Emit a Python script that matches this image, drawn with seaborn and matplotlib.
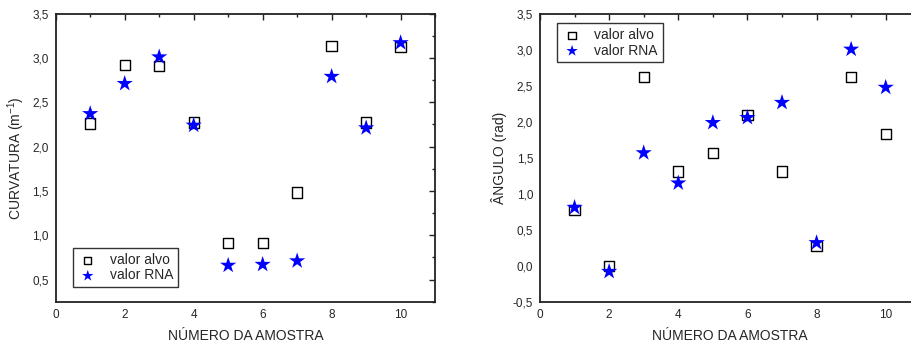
import matplotlib
matplotlib.use("Agg")
import matplotlib.pyplot as plt
import pandas as pd
import seaborn as sns
from matplotlib.ticker import FuncFormatter, MultipleLocator

amostra = [1, 2, 3, 4, 5, 6, 7, 8, 9, 10]

curv_alvo = [2.26, 2.92, 2.91, 2.27, 0.91, 0.91, 1.48, 3.13, 2.27, 3.12]
curv_rna = [2.37, 2.71, 3.01, 2.24, 0.66, 0.67, 0.71, 2.79, 2.21, 3.17]

ang_alvo = [0.78, 0.00, 2.62, 1.31, 1.57, 2.10, 1.31, 0.27, 2.62, 1.83]
ang_rna = [0.81, -0.08, 1.57, 1.15, 1.99, 2.06, 2.27, 0.32, 3.01, 2.48]

sns.set_style("white")
plt.rcParams["font.family"] = ["Liberation Sans", "DejaVu Sans"]
plt.rcParams["mathtext.default"] = "regular"


def comma(v, pos):
    return f"{v:.1f}".replace(".", ",")


def draw(ax, alvo, rna, ylim, ylabel, legend_loc):
    df = pd.DataFrame({"x": amostra, "alvo": alvo, "rna": rna})
    sns.scatterplot(data=df, x="x", y="alvo", ax=ax, marker="s", s=55,
                    facecolor="none", edgecolor="black", linewidth=1.0,
                    label="valor alvo", zorder=3)
    sns.scatterplot(data=df, x="x", y="rna", ax=ax, marker="*", s=150,
                    color="#0000ff", edgecolor="none", label="valor RNA", zorder=4)
    ax.set_xlim(0, 11)
    ax.set_ylim(*ylim)
    ax.xaxis.set_major_locator(MultipleLocator(2))
    ax.xaxis.set_minor_locator(MultipleLocator(1))
    ax.yaxis.set_major_locator(MultipleLocator(0.5))
    ax.yaxis.set_minor_locator(MultipleLocator(0.25))
    ax.yaxis.set_major_formatter(FuncFormatter(comma))
    ax.tick_params(which="both", direction="in", top=True, right=True,
                   color="#222222", labelsize=8.5, pad=5)
    ax.tick_params(which="major", length=4, width=1)
    ax.tick_params(which="minor", length=2.5, width=1)
    for sp in ax.spines.values():
        sp.set_color("#222222")
        sp.set_linewidth(1.3)
    ax.set_xlabel("NÚMERO DA AMOSTRA", fontsize=10, labelpad=6)
    ax.set_ylabel(ylabel, fontsize=10, labelpad=4)
    leg = ax.legend(loc=legend_loc, fontsize=10, frameon=True, fancybox=False,
                    edgecolor="black", handletextpad=0.9, borderpad=0.35,
                    labelspacing=0.1, handlelength=1.4, borderaxespad=0,
                    markerscale=0.7)
    leg.get_frame().set_linewidth(1.0)
    return leg


fig = plt.figure(figsize=(9.12, 3.47), dpi=100)
ax1 = fig.add_axes([0.0611, 0.1305, 0.416, 0.8305])
ax2 = fig.add_axes([0.5921, 0.1305, 0.417, 0.829])

leg1 = draw(ax1, curv_alvo, curv_rna, (0.25, 3.5), "CURVATURA (m$^{-1}$)", "lower left")
leg1.set_bbox_to_anchor((0.046, 0.05), transform=ax1.transAxes)
leg2 = draw(ax2, ang_alvo, ang_rna, (-0.5, 3.5), "ÂNGULO (rad)", "upper left")
leg2.set_bbox_to_anchor((0.046, 0.968), transform=ax2.transAxes)

fig.savefig("out.png", dpi=100)
